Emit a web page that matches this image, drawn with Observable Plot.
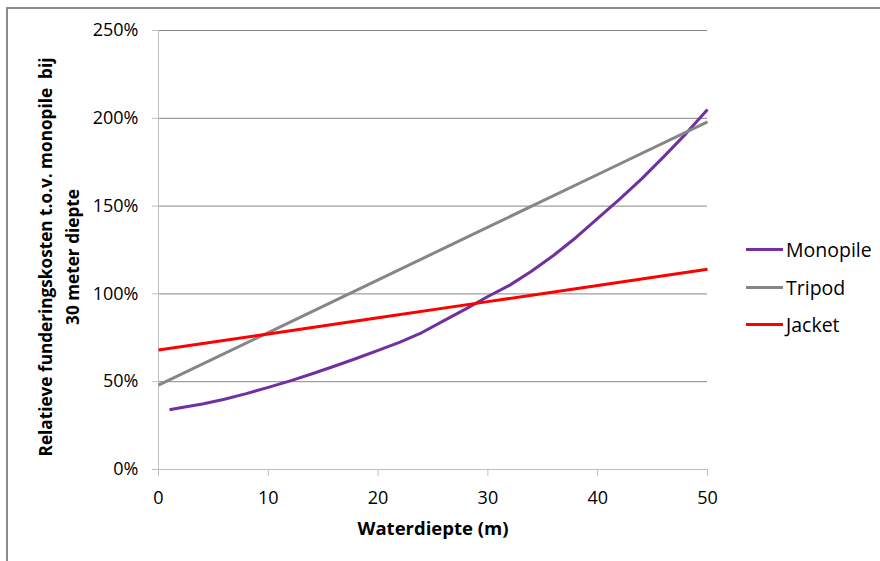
<!DOCTYPE html>
<html>
<head>
<meta charset="utf-8">
<script src="https://cdn.jsdelivr.net/npm/d3@7"></script>
<script src="https://cdn.jsdelivr.net/npm/@observablehq/plot@0.6"></script>
<style>
  html, body { margin: 0; padding: 0; background: #fff; overflow: hidden; }
  #wrap { position: relative; width: 880px; height: 561px; overflow: hidden; font-family: "Open Sans", sans-serif; }
  #frame { position: absolute; left: 6px; top: 7px; width: 1000px; height: 1000px; border-left: 2px solid #8c8c8c; border-top: 2px solid #8c8c8c; pointer-events: none; }
  #legend { position: absolute; left: 746px; top: 0; }
  .item { position: absolute; left: 0; width: 140px; height: 26px; display: flex; align-items: center; white-space: nowrap; }
  .swatch { width: 37px; height: 3px; margin-right: 3px; }
  .label { font-size: 19.5px; color: #000; }
  svg { position: absolute; left: 0; top: 0; }
</style>
</head>
<body>
<div id="wrap">
  <div id="chart"></div>
  <div id="frame"></div>
  <div id="legend"></div>
</div>
<script>
// Water depth (m) and relative foundation cost (% of monopile at 30 m)
const monopileDepth = [1, 2, 4, 6, 8, 10, 12, 14, 16, 18, 20, 22, 24, 26, 28, 30, 32, 34, 36, 38, 40, 42, 44, 46, 48, 50];
const monopileCost  = [34, 35.2, 37.3, 40, 43.2, 46.8, 50.5, 54.5, 58.8, 63.2, 67.8, 72.5, 78, 84.8, 91.5, 98.5, 105, 113, 122, 132, 143, 154, 165.5, 178, 191, 205];

const tripodDepth = [0, 10, 20, 30, 40, 50];
const tripodCost  = [48, 78, 108, 138, 168, 198];

const jacketDepth = [0, 10, 20, 30, 40, 50];
const jacketCost  = [68, 77.2, 86.4, 95.6, 104.8, 114];

const seriesNames  = ["Monopile", "Tripod", "Jacket"];
const seriesColors = ["#7030A0", "#868686", "#FF0000"];

const xTicks = [0, 10, 20, 30, 40, 50];
const yTicks = [0, 50, 100, 150, 200, 250];

const xLabel = "Waterdiepte (m)";
const yLabel = "Relatieve funderingskosten t.o.v. monopile  bij\n30 meter diepte";

const rows = [];
monopileDepth.forEach((d, i) => rows.push({series: seriesNames[0], depth: d, cost: monopileCost[i]}));
tripodDepth.forEach((d, i) => rows.push({series: seriesNames[1], depth: d, cost: tripodCost[i]}));
jacketDepth.forEach((d, i) => rows.push({series: seriesNames[2], depth: d, cost: jacketCost[i]}));

const chart = Plot.plot({
  width: 880,
  height: 561,
  marginLeft: 158,
  marginRight: 173,
  marginTop: 30,
  marginBottom: 92,
  style: {fontFamily: "'Open Sans', sans-serif", fontSize: "18px", color: "#000", background: "transparent", overflow: "visible"},
  x: {domain: [0, 50]},
  y: {domain: [0, 250]},
  color: {domain: seriesNames, range: seriesColors},
  marks: [
    Plot.gridY(yTicks.filter(t => t > 0), {stroke: "#868686", strokeOpacity: 1, strokeWidth: 1}),
    Plot.ruleY([0], {stroke: "#bfbfbf", strokeWidth: 1}),
    Plot.ruleX([0], {stroke: "#bfbfbf", strokeWidth: 1}),
    Plot.axisY({ticks: yTicks, tickSize: 6, tickPadding: 14, stroke: "#bfbfbf", tickFormat: d => d + "%", label: null, fontSize: 18}),
    Plot.axisX({ticks: xTicks, tickSize: 7, tickPadding: 15, stroke: "#bfbfbf", tickFormat: d => String(d), label: null, fontSize: 18}),
    Plot.line(rows, {x: "depth", y: "cost", z: "series", stroke: "series", strokeWidth: 3, strokeLinejoin: "round", strokeLinecap: "butt"}),
    Plot.text([xLabel], {frameAnchor: "bottom", dy: 60, lineAnchor: "middle", textAnchor: "middle", fontWeight: "bold", fontSize: 18.5, fill: "#000"}),
    Plot.text([yLabel], {frameAnchor: "left", dx: -102, dy: 7, rotate: -90, textAnchor: "middle", lineAnchor: "middle", lineHeight: 1.6, fontWeight: "bold", fontSize: 17.2, fill: "#000"})
  ]
});
document.getElementById("chart").appendChild(chart);

const legendTops = [249, 287, 324];
const legend = document.getElementById("legend");
seriesNames.forEach((name, i) => {
  const item = document.createElement("div");
  item.className = "item";
  item.style.top = (legendTops[i] - 13) + "px";
  const sw = document.createElement("div");
  sw.className = "swatch";
  sw.style.background = seriesColors[i];
  const lb = document.createElement("span");
  lb.className = "label";
  lb.textContent = name;
  item.appendChild(sw);
  item.appendChild(lb);
  legend.appendChild(item);
});
</script>
</body>
</html>
